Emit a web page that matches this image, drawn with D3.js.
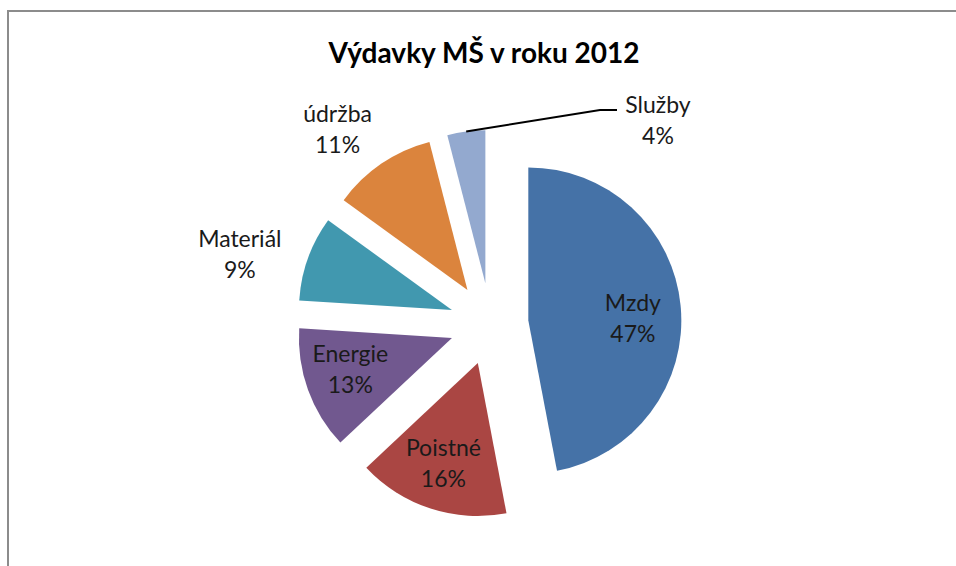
<!DOCTYPE html>
<html>
<head>
<meta charset="utf-8">
<script src="https://cdn.jsdelivr.net/npm/d3@7"></script>
<style>
  html, body { margin: 0; padding: 0; background: #ffffff; }
  svg { display: block; }
</style>
</head>
<body>
<svg id="chart" width="956" height="566"></svg>
<script>
// ---- data ----
const title = "Výdavky MŠ v roku 2012";
const categories = ["Mzdy", "Poistné", "Energie", "Materiál", "údržba", "Služby"];
const values = [47, 16, 13, 9, 11, 4];
const percentLabels = ["47%", "16%", "13%", "9%", "11%", "4%"];
const colors = ["#4572A7", "#AA4643", "#71588F", "#4198AF", "#DB843D", "#93A9CF"];

// ---- layout ----
const W = 956, H = 566;
const cx = 490.5, cy = 324, R = 153;
const explode = [38, 41, 41, 41, 41, 41];
const labelDist = [105, 105, 108, 218, 208, null];
const labelShift = [[0, 7], [-2, 0], [0, -5], [-7, 18], [-13, 11], [0, 0]];
const FONT = "Lato, 'Open Sans', sans-serif";

const svg = d3.select("#chart");

// frame (left + top edges visible)
svg.append("path")
  .attr("d", "M8,566 L8,11 L956,11")
  .attr("fill", "none")
  .attr("stroke", "#8c8c8c")
  .attr("stroke-width", 2);

// title
svg.append("text")
  .attr("x", 484).attr("y", 63)
  .attr("text-anchor", "middle")
  .attr("font-family", FONT)
  .attr("font-weight", "bold")
  .attr("font-size", 28)
  .attr("fill", "#000")
  .text(title);

const pie = d3.pie().sort(null).startAngle(0).endAngle(2 * Math.PI);
const arcs = pie(values);
const arc = d3.arc().innerRadius(0).outerRadius(R);

const g = svg.append("g").attr("transform", `translate(${cx},${cy})`);

arcs.forEach((a, i) => {
  const mid = (a.startAngle + a.endAngle) / 2;
  const ox = explode[i] * Math.sin(mid), oy = -explode[i] * Math.cos(mid);
  const sg = g.append("g").attr("transform", `translate(${ox},${oy})`);
  sg.append("path")
    .attr("d", arc(a))
    .attr("fill", colors[i]);

  if (labelDist[i] !== null) {
    const lx = labelDist[i] * Math.sin(mid) + labelShift[i][0];
    const ly = -labelDist[i] * Math.cos(mid) + labelShift[i][1];
    const t = sg.append("text")
      .attr("text-anchor", "middle")
      .attr("font-family", FONT)
      .attr("font-size", 23)
      .attr("fill", "#1a1a1a");
    t.append("tspan").attr("x", lx).attr("y", ly - 7).text(categories[i]);
    t.append("tspan").attr("x", lx).attr("y", ly + 24).text(percentLabels[i]);
  } else {
    // leader-line label
    const p0x = R * Math.sin(mid), p0y = -R * Math.cos(mid);
    const bx = ox + p0x, by = oy + p0y;
    const kx = 600 - cx, ky = 110 - cy;
    const ex = 617 - cx;
    g.append("path")
      .attr("d", `M${bx},${by} L${kx},${ky} L${ex},${ky}`)
      .attr("fill", "none")
      .attr("stroke", "#000")
      .attr("stroke-width", 2);
    const t = g.append("text")
      .attr("text-anchor", "middle")
      .attr("font-family", FONT)
      .attr("font-size", 23)
      .attr("fill", "#1a1a1a");
    t.append("tspan").attr("x", 658 - cx).attr("y", 113 - cy).text(categories[i]);
    t.append("tspan").attr("x", 658 - cx).attr("y", 144 - cy).text(percentLabels[i]);
  }
});
</script>
</body>
</html>
